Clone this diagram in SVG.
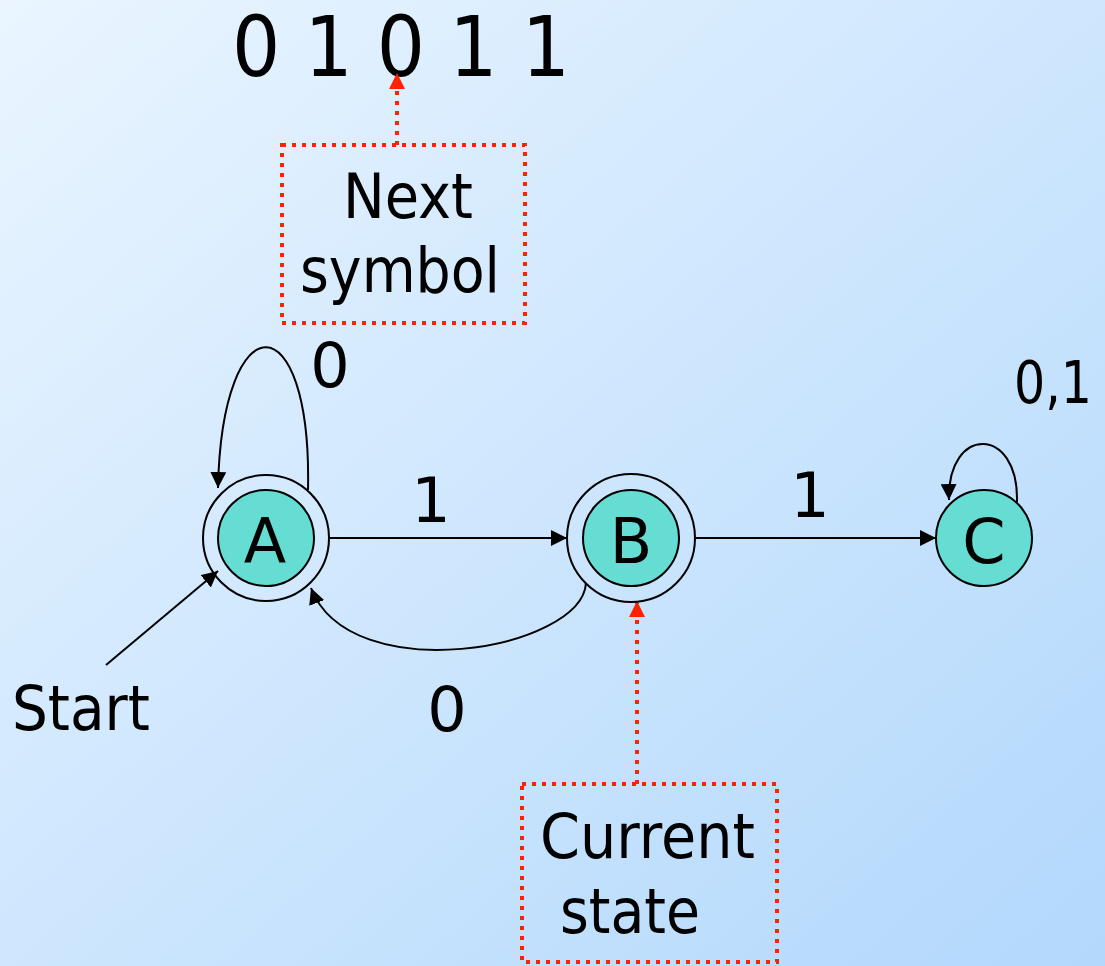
<svg xmlns="http://www.w3.org/2000/svg" width="1105" height="966" viewBox="0 0 1105 966">
<defs>
<linearGradient id="bg" x1="0" y1="0" x2="1" y2="1">
<stop offset="0" stop-color="#EAF5FF"/>
<stop offset="1" stop-color="#B2D8FC"/>
</linearGradient>
<marker id="ah" viewBox="0 0 16 16" markerWidth="16" markerHeight="16" refX="16" refY="8" orient="auto" markerUnits="userSpaceOnUse">
<path d="M0,0 L16,8 L0,16 Z" fill="#000"/>
</marker>
<marker id="rh" viewBox="0 0 16 16" markerWidth="16" markerHeight="16" refX="14" refY="8" orient="auto" markerUnits="userSpaceOnUse">
<path d="M0,0 L16,8 L0,16 Z" fill="#FF2200"/>
</marker>
</defs>
<style>
text{font-family:"DejaVu Sans","Liberation Sans",sans-serif;fill:#000;}
.lbl{font-size:62px;text-anchor:middle;}
.node{fill:#66DDD3;stroke:#000;stroke-width:2;}
.ring{fill:none;stroke:#000;stroke-width:2;}
.edge{fill:none;stroke:#000;stroke-width:2;marker-end:url(#ah);}
.dot{fill:none;stroke:#FF2200;stroke-width:4;stroke-dasharray:4 6;}
.rarrow{fill:none;stroke:#FF2200;stroke-width:4;stroke-dasharray:4 6;marker-end:url(#rh);}
</style>
<rect width="1105" height="966" fill="url(#bg)"/>

<text x="232" y="76" font-size="84" textLength="338" lengthAdjust="spacingAndGlyphs">0 1 0 1 1</text>

<g id="connectors">
<path class="edge" d="M329,538 L567,538"/>
<path class="edge" d="M696,538 L936,538"/>
<path class="edge" d="M308,490 C312,300 222,300 218,488"/>
<path class="edge" d="M1017,502 C1019,425 947,425 949,500"/>
<path class="edge" d="M586,583 C582,650 350,690 311,588"/>
<path class="edge" d="M106,665 L218,571"/>
<path class="rarrow" d="M397,145 L397,75"/>
<path class="rarrow" d="M637,784 L637,603"/>
</g>

<g id="node-A">
<circle class="ring" cx="266" cy="538" r="63"/>
<circle class="node" cx="266" cy="538" r="48"/>
<text class="lbl" x="265" y="563">A</text>
</g>
<g id="node-B">
<circle class="ring" cx="631" cy="538" r="64"/>
<circle class="node" cx="631" cy="538" r="48"/>
<text class="lbl" x="631" y="563">B</text>
</g>
<g id="node-C">
<circle class="node" cx="984" cy="538" r="48"/>
<text class="lbl" x="984" y="563">C</text>
</g>

<g id="labels">
<text class="lbl" x="330" y="387">0</text>
<text class="lbl" x="431" y="522">1</text>
<text class="lbl" x="810" y="517">1</text>
<text x="1014" y="403" font-size="58" textLength="78" lengthAdjust="spacingAndGlyphs">0,1</text>
<text class="lbl" x="447" y="731">0</text>
<text x="12" y="730" font-size="62" textLength="138" lengthAdjust="spacingAndGlyphs">Start</text>
</g>

<g id="next-symbol">
<rect class="dot" x="282" y="145" width="243" height="178"/>
<text x="343" y="218" font-size="62" textLength="130" lengthAdjust="spacingAndGlyphs">Next</text>
<text x="300" y="292" font-size="62" textLength="200" lengthAdjust="spacingAndGlyphs">symbol</text>
</g>

<g id="current-state">
<rect class="dot" x="522" y="784" width="255" height="178"/>
<text x="540" y="858" font-size="62" textLength="215" lengthAdjust="spacingAndGlyphs">Current</text>
<text x="560" y="933" font-size="62" textLength="140" lengthAdjust="spacingAndGlyphs">state</text>
</g>
</svg>
